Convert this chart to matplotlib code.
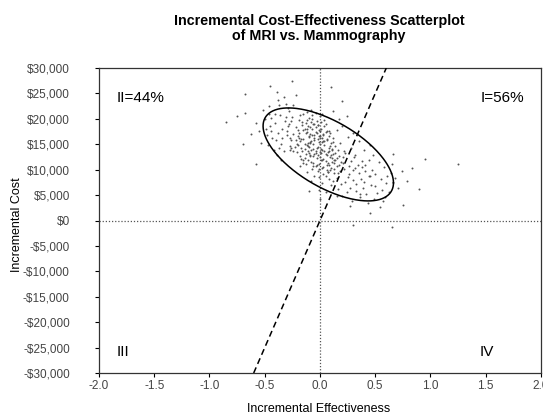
#!/usr/bin/env python3

import numpy as np
import matplotlib
matplotlib.use('Agg')
import matplotlib.pyplot as plt
from matplotlib.ticker import FuncFormatter

plt.rcParams['font.family'] = ['Liberation Sans', 'DejaVu Sans']

# incremental effectiveness / incremental cost of each simulation
efeito = [
    -0.02, 0.01, -0.05, 0.03, -0.10, -0.08, 0.00, 0.05, -0.03, -0.12,
    0.02, -0.06, -0.15, 0.07, -0.01, -0.09, 0.04, -0.18, 0.09, -0.04,
    -0.13, 0.06, -0.07, 0.01, -0.20, 0.11, -0.02, -0.11, 0.03, -0.16,
    0.08, -0.05, -0.22, 0.12, -0.01, -0.14, 0.05, -0.08, -0.24, 0.10,
    -0.03, 0.00, -0.17, 0.06, -0.10, 0.13, -0.06, -0.19, 0.02, -0.12,
    0.04, -0.26, 0.08, -0.04, -0.15, 0.14, -0.01, -0.21, 0.07, -0.09,
    0.01, -0.07, -0.28, 0.10, -0.02, -0.13, 0.05, -0.18, 0.15, -0.05,
    -0.11, 0.03, -0.23, 0.09, -0.08, 0.16, -0.14, 0.00, -0.30, 0.12,
    -0.03, -0.16, 0.06, -0.10, 0.02, -0.25, 0.11, -0.07, -0.19, 0.04,
    -0.01, -0.12, 0.08, -0.04, -0.27, 0.14, -0.06, 0.00, -0.09, -0.02,
    -0.04, 0.02, -0.09, 0.06, -0.14, 0.00, -0.06, 0.09, -0.11, 0.03,
    -0.17, 0.05, -0.02, -0.08, 0.11, -0.13, 0.01, -0.20, 0.07, -0.05,
    -0.10, 0.04, -0.15, 0.13, -0.03, -0.07, 0.08, -0.18, 0.00, -0.12,
    0.10, -0.01, -0.22, 0.06, -0.09, 0.02, -0.16, 0.12, -0.04, -0.11,
    0.15, -0.06, -0.19, 0.03, -0.13, 0.09, -0.02, -0.24, 0.05, -0.08,
    0.17, -0.14, 0.01, -0.05, 0.11, -0.21, 0.07, -0.10, -0.01, 0.14,
    -0.17, 0.04, -0.07, 0.19, -0.12, 0.00, -0.26, 0.08, -0.03, 0.21,
    -0.09, 0.13, -0.15, 0.02, -0.06, 0.16, -0.20, 0.06, -0.11, -0.04,
    -0.32, -0.38, -0.41, -0.35, -0.45, -0.29, -0.50, -0.33, -0.43, -0.36,
    -0.47, -0.31, -0.55, -0.39, -0.28, -0.52, -0.34, -0.44, -0.40, -0.58,
    -0.30, -0.37, -0.48, -0.26, -0.42, -0.62, -0.33, -0.46, -0.35, -0.24,
    -0.68, -0.22, -0.53, -0.39, -0.27,
    -0.34, -0.41, -0.29, -0.46, -0.37, -0.31, -0.49, -0.27, -0.38, -0.44,
    0.18, 0.25, 0.21, 0.30, 0.15, 0.35, 0.27, 0.40, 0.22, 0.33,
    0.45, 0.19, 0.38, 0.50, 0.28, 0.42, 0.55, 0.24, 0.47, 0.36,
    0.60, 0.31, 0.52, 0.17, 0.44, 0.64, 0.26, 0.58, 0.39, 0.20,
    0.49, 0.34, 0.62, 0.29, 0.68, 0.41, 0.53, 0.23, 0.57, 0.46,
    0.71, 0.37, 0.13, 0.65, 0.32, 0.74, 0.48, 0.16, 0.59, 0.43,
    0.79, 0.27, 0.66, 0.54, 0.83,
    0.26, 0.33, 0.41, 0.50, 0.56, 0.36, 0.44, 0.23, 0.61, 0.30,
    -0.05, 0.02, -0.12, 0.10, -0.18, 0.05, -0.08, 0.15, -0.01, -0.15,
    0.08, 0.00, -0.10, 0.12, 0.03,
    0.18, 0.22, 0.15, 0.28, 0.20, 0.32, 0.25, 0.17, 0.35, 0.30,
    0.40, 0.12, 0.24, 0.38, 0.45,
    -0.75, -0.85, -0.68, -0.45, -0.25, 0.10, 1.25, 0.90, 0.75, 0.45,
    0.65, 0.30, -0.58, -0.70, 0.20, 0.95,
]
custo = [
    14500, 13200, 15800, 12100, 16400, 13900, 15100, 11800, 17200, 14800,
    16300, 12600, 17800, 13400, 11200, 18300, 14900, 15600, 12400, 13700,
    19100, 10900, 16900, 18100, 16700, 11600, 12800, 15200, 15700, 13600,
    14300, 18900, 18400, 13100, 16600, 12300, 17400, 11500, 17100, 10400,
    19600, 12500, 14200, 15900, 20200, 12000, 14100, 19700, 10300, 17500,
    13600, 15900, 16700, 10800, 16100, 14600, 17900, 13500, 11300, 15500,
    14000, 18000, 18900, 15200, 9800, 13000, 19000, 20800, 10700, 16300,
    11900, 17000, 14400, 9900, 19300, 13800, 15000, 20500, 16800, 16200,
    12200, 18700, 12900, 14400, 21000, 20300, 13900, 10200, 16200, 18500,
    15500, 21300, 11000, 17500, 13900, 11900, 15000, 13500, 12900, 16000,
    13300, 15400, 12700, 16100, 14000, 17600, 11400, 14700, 18600, 10600,
    16000, 13000, 18700, 15700, 12300, 17200, 11900, 14800, 9600, 16800,
    13200, 19800, 12000, 11300, 14200, 20000, 17700, 12600, 16200, 18100,
    12800, 10100, 15900, 10000, 17000, 13900, 19400, 15400, 21200, 14600,
    12200, 10700, 17300, 16900, 11100, 17200, 18800, 13700, 8800, 21700,
    10900, 18000, 19300, 13100, 14000, 15100, 9500, 16700, 8600, 13300,
    12100, 15600, 20700, 11500, 19800, 16700, 14200, 13700, 11000, 12500,
    15300, 10200, 20900, 12000, 19000, 9300, 17900, 17600, 13600, 18400,
    19500, 17200, 21000, 15100, 18600, 22100, 19900, 13600, 16300, 20800,
    14900, 23000, 17600, 12900, 21500, 21800, 18000, 20200, 15800, 19200,
    17700, 22800, 16900, 19600, 13800, 17000, 24300, 22500, 11900, 22700,
    21200, 24600, 15300, 25300, 14700,
    16200, 19200, 18500, 20900, 14200, 20400, 18100, 16300, 23700, 17700,
    9800, 8600, 11400, 7900, 8400, 9300, 6400, 7600, 10100, 5800,
    8700, 7100, 10600, 6800, 11800, 5200, 8100, 5600, 10000, 4700,
    7300, 12400, 5500, 12600, 12000, 9400, 9200, 10500, 6300, 4900,
    4300, 11000, 5700, 3900, 8300, 9700, 11500, 13200, 3800, 7000,
    6400, 8200, 9300, 11200, 10300, 9800, 12900, 6200, 4600, 3400,
    7800, 2800, 13000, 2700, 10300,
    10800, 7200, 11000, 9100, 6000, 5300, 8800, 7600, 8800, 9900,
    8700, 7400, 9600, 6900, 10800, 5600, 7800, 4900, 6100, 11300,
    8100, 4200, 5900, 7700, 9100,
    15300, 13600, 17800, 14300, 18600, 12800, 16400, 19900, 15600, 17300,
    13900, 21500, 20500, 11800, 14800,
    20600, 19400, 24800, 26500, 27400, 26200, 11100, 6200, 3000, 1500,
    -1200, -800, 11200, 15100, 23600, 12100,
]

# elipse de confianca (centro e semi-eixos em unidades dos dados)
elipse_centro = (0.075, 13000)
elipse_eixo1 = (0.59, -5590)
elipse_eixo2 = (0.0, 7240)

# linha de disposicao a pagar ($/efetividade)
wtp = 50000
wtp_x = [-0.6, 0.6]

quadrantes = ['II=44%', 'I=56%', 'III', 'IV']
yticks = [-30000, -25000, -20000, -15000, -10000, -5000, 0,
          5000, 10000, 15000, 20000, 25000, 30000]
xticks = [-2.0, -1.5, -1.0, -0.5, 0.0, 0.5, 1.0, 1.5, 2.0]

fig = plt.figure(figsize=(5.43, 4.17), dpi=100)
ax = fig.add_axes([0.1823, 0.1055, 0.8140, 0.7314])

ax.axhline(0, color='#555555', linestyle=(0, (1, 1.5)), linewidth=0.9, zorder=1)
ax.axvline(0, color='#555555', linestyle=(0, (1, 1.5)), linewidth=0.9, zorder=1)

ax.scatter(efeito, custo, s=2.0, color='#555555', linewidths=0, zorder=2)

t = np.linspace(0, 2 * np.pi, 300)
ex = elipse_centro[0] + elipse_eixo1[0] * np.cos(t) + elipse_eixo2[0] * np.sin(t)
ey = elipse_centro[1] + elipse_eixo1[1] * np.cos(t) + elipse_eixo2[1] * np.sin(t)
ax.plot(ex, ey, color='black', linewidth=1.1, zorder=3)

ax.plot(wtp_x, [wtp * v for v in wtp_x], color='black', linestyle=(0, (4, 2.5)),
        linewidth=1.1, zorder=3)

ax.set_xlim(-2.0, 2.0)
ax.set_ylim(-30000, 30000)
ax.set_xticks(xticks)
ax.set_yticks(yticks)
ax.xaxis.set_major_formatter(FuncFormatter(lambda v, p: f'{v:.1f}'))
ax.yaxis.set_major_formatter(FuncFormatter(
    lambda v, p: f'-${abs(v):,.0f}' if v < 0 else f'${v:,.0f}'))
ax.tick_params(direction='out', length=3, width=0.8, labelsize=8.5,
               labelcolor='#444444')
ax.tick_params(axis='x', pad=2)
ax.tick_params(axis='y', pad=18)
for s in ax.spines.values():
    s.set_linewidth(0.9)
    s.set_color('#333333')

ax.text(-1.84, 24100, quadrantes[0], fontsize=11, va='center', ha='left')
ax.text(1.845, 24100, quadrantes[1], fontsize=11, va='center', ha='right')
ax.text(-1.84, -25900, quadrantes[2], fontsize=11, va='center', ha='left')
ax.text(1.445, -25900, quadrantes[3], fontsize=11, va='center', ha='left')

fig.text(17 / 543, 1 - 225 / 417, 'Incremental Cost', fontsize=9,
         rotation=90, ha='center', va='center')
fig.text(0.5875, 1 - 409 / 417, 'Incremental Effectiveness', fontsize=9,
         ha='center', va='center')
fig.text(0.5875, 1 - 28.5 / 417,
         'Incremental Cost-Effectiveness Scatterplot\nof MRI vs. Mammography',
         fontsize=10.3, fontweight='bold', ha='center', va='center', linespacing=1.15)

fig.savefig('out.png', dpi=100)
